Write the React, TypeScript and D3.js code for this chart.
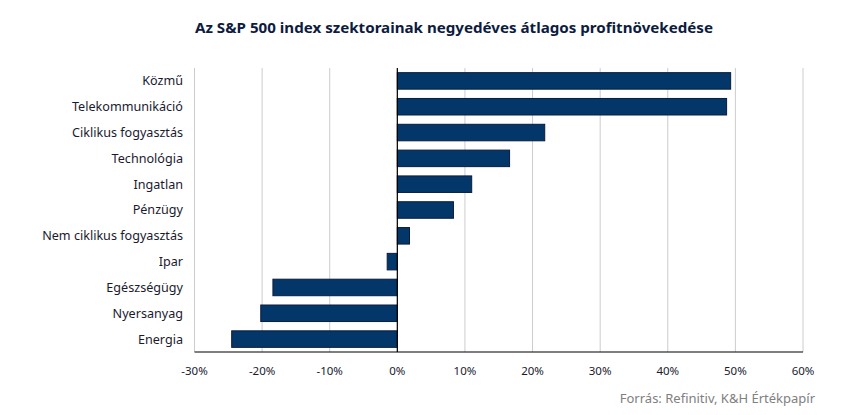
import React from "react";
import * as d3 from "d3";

const categories = [
  "Közmű",
  "Telekommunikáció",
  "Ciklikus fogyasztás",
  "Technológia",
  "Ingatlan",
  "Pénzügy",
  "Nem ciklikus fogyasztás",
  "Ipar",
  "Egészségügy",
  "Nyersanyag",
  "Energia",
];
const values = [49.3, 48.7, 21.8, 16.6, 11.0, 8.3, 1.8, -1.5, -18.4, -20.2, -24.5];
const ticks = [-30, -20, -10, 0, 10, 20, 30, 40, 50, 60];
const title = "Az S&P 500 index szektorainak negyedéves átlagos profitnövekedése";
const source = "Forrás: Refinitiv, K&H Értékpapír";

export default function App() {
  const W = 850, H = 415;
  const left = 194.5, right = 803, top = 68, bottom = 352;
  const x = d3.scaleLinear().domain([-30, 60]).range([left, right]);
  const y = d3.scaleBand<string>().domain(categories).range([top, bottom]).paddingInner(0.36).paddingOuter(0.18);
  const font = "'Noto Sans', 'Open Sans', sans-serif";
  return (
    <svg width={W} height={H} style={{ position: "absolute", left: 0, top: 0, background: "#fff" }}>
      <text x={195} y={33} fontFamily={font} fontWeight="bold" fontSize={13.5} fill="#0d1b3e" textLength={518} lengthAdjust="spacingAndGlyphs">
        {title}
      </text>
      {ticks.map((t) => (
        <line key={t} x1={x(t)} x2={x(t)} y1={top} y2={bottom} stroke="#cccccc" strokeWidth={1} />
      ))}
      {categories.map((c, i) => {
        const v = values[i];
        const x0 = x(Math.min(0, v));
        const w = Math.abs(x(v) - x(0));
        return (
          <rect key={c} x={x0} y={y(c)} width={w} height={y.bandwidth()} fill="#043769" stroke="#0a1c3c" strokeWidth={1} />
        );
      })}
      <line x1={x(0)} x2={x(0)} y1={top} y2={bottom} stroke="#000" strokeWidth={1.2} />
      <line x1={left} x2={right} y1={bottom} y2={bottom} stroke="#000" strokeWidth={1.2} />
      {categories.map((c) => (
        <text key={c} x={183} y={(y(c) as number) + y.bandwidth() / 2} dy="0.35em" textAnchor="end" fontFamily={font} fontSize={12.6} fill="#1a1a2e">
          {c}
        </text>
      ))}
      {ticks.map((t) => (
        <text key={t} x={x(t)} y={375} textAnchor="middle" fontFamily={font} fontSize={11.5} fill="#1a1a2e">
          {t + "%"}
        </text>
      ))}
      <text x={815} y={403} textAnchor="end" fontFamily={font} fontSize={13} fill="#808080">
        {source}
      </text>
    </svg>
  );
}
